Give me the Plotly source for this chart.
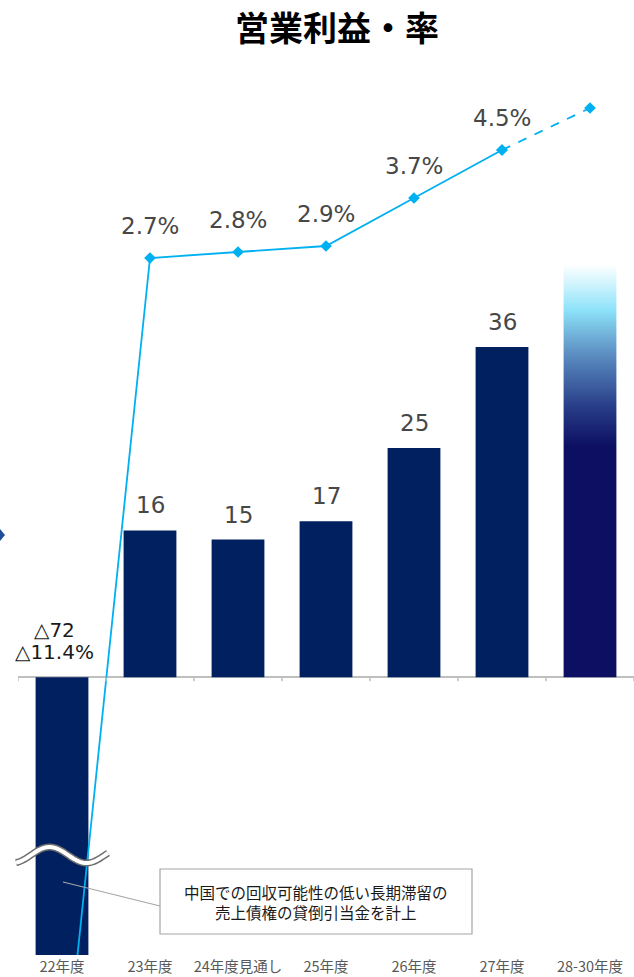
import numpy as np
import plotly.graph_objects as go

# ---- data -------------------------------------------------------------
categories = ["22年度", "23年度", "24年度見通し", "25年度", "26年度", "27年度", "28-30年度"]
profit = [-72, 16, 15, 17, 25, 36]          # 営業利益 (22〜27年度)
profit_target = 45                          # 28-30年度 目標レンジ
margin_pct = [-11.4, 2.7, 2.8, 2.9, 3.7, 4.5]   # 営業利益率 (%)
margin_target = 5.2                         # 28-30年度 目標

note_text = "中国での回収可能性の低い長期滞留の<br>売上債権の貸倒引当金を計上"

# ---- layout geometry ---------------------------------------------------
W, H = 634, 977
ML, MR, MT, MB = 18, 0, 60, 22
PLOT_W = W - ML - MR
PLOT_H = H - MT - MB
Y_RANGE = [-30.3, 67.3]      # profit axis (cut below, broken bar)
Y2_RANGE = [-8.917, 6.0]     # margin axis
BAR_W = 0.6

NAVY = "#002060"
CYAN = "#00b0f0"
LABEL = "#474747"
FONT_NUM = "DejaVu Sans"
FONT_JP = "Noto Sans CJK JP"


def paper_x(px):
    return (px - ML) / PLOT_W


def paper_y(py):
    return (H - MB - py) / PLOT_H


def fmt_profit(v):
    return f"△{abs(v)}" if v < 0 else f"{v}"


def fmt_pct(v):
    return f"△{abs(v)}%" if v < 0 else f"{v}%"


n = len(categories)
xs = list(range(n))

fig = go.Figure()

# operating profit bars
fig.add_trace(go.Bar(
    x=xs[:len(profit)], y=profit, width=BAR_W,
    marker=dict(color=NAVY, line=dict(width=0)),
    yaxis="y", hoverinfo="skip",
))

# target bar with vertical gradient
i_t = n - 1
fig.add_trace(go.Scatter(
    x=[i_t - BAR_W / 2, i_t + BAR_W / 2, i_t + BAR_W / 2, i_t - BAR_W / 2, i_t - BAR_W / 2],
    y=[0, 0, profit_target, profit_target, 0],
    mode="lines", fill="toself",
    line=dict(width=0, color="rgba(0,0,0,0)"),
    fillgradient=dict(
        type="vertical", start=0, stop=profit_target,
        colorscale=[[0, "#0d1062"], [0.56, "#0d1062"], [0.65, "#263a86"],
                    [0.78, "#5a8cc0"], [0.89, "#8de2f9"], [0.95, "#cdf3fd"],
                    [1, "#ffffff"]],
    ),
    yaxis="y", hoverinfo="skip",
))

# operating margin line (actual / forecast)
fig.add_trace(go.Scatter(
    x=xs[:len(margin_pct)], y=margin_pct, yaxis="y2",
    mode="lines+markers",
    line=dict(color=CYAN, width=1.8),
    marker=dict(symbol="diamond", size=9, color=CYAN),
    hoverinfo="skip",
))
# margin target (dashed)
fig.add_trace(go.Scatter(
    x=[xs[len(margin_pct) - 1], i_t], y=[margin_pct[-1], margin_target], yaxis="y2",
    mode="lines+markers",
    line=dict(color=CYAN, width=1.8, dash="dash"),
    marker=dict(symbol="diamond", size=9, color=CYAN),
    hoverinfo="skip",
))

annotations = []
shapes = []

# value labels
for i, v in enumerate(profit):
    if v > 0:
        annotations.append(dict(x=i, y=v, xref="x", yref="y", text=fmt_profit(v),
                                showarrow=False, yshift=25,
                                font=dict(family=FONT_NUM, size=23, color=LABEL)))
for i, v in enumerate(margin_pct):
    if v > 0:
        annotations.append(dict(x=i, y=v, xref="x", yref="y2", text=fmt_pct(v),
                                showarrow=False, yshift=32,
                                font=dict(family=FONT_NUM, size=23, color=LABEL)))
# negative first year
annotations.append(dict(x=0, y=0, xref="x", yref="y", text=fmt_profit(profit[0]),
                        showarrow=False, yshift=47, xshift=-8,
                        font=dict(family=FONT_NUM, size=20, color="#1a1a1a")))
annotations.append(dict(x=0, y=0, xref="x", yref="y", text=fmt_pct(margin_pct[0]),
                        showarrow=False, yshift=25, xshift=-8,
                        font=dict(family=FONT_NUM, size=20, color="#1a1a1a")))

# small ticks under the baseline at category boundaries
for k in range(n + 1):
    shapes.append(dict(type="line", xref="x", yref="y", x0=k - 0.5, x1=k - 0.5,
                       y0=0, y1=-0.45, line=dict(color="#bfbfbf", width=1.5)))

# broken-axis wave across the first bar
wx = np.linspace(16, 108, 60)
wy = 855 - 8 * np.sin(2 * np.pi * (wx - 31) / 74)
wave = "M " + " L ".join(f"{paper_x(a):.5f},{paper_y(b):.5f}" for a, b in zip(wx, wy))
shapes.append(dict(type="path", xref="paper", yref="paper", path=wave,
                   line=dict(color="#6e6e6e", width=7)))
shapes.append(dict(type="path", xref="paper", yref="paper", path=wave,
                   line=dict(color="#ffffff", width=4)))

# callout box and leader line
shapes.append(dict(type="line", xref="paper", yref="paper",
                   x0=paper_x(63), y0=paper_y(882), x1=paper_x(160), y1=paper_y(906),
                   line=dict(color="#a6a6a6", width=1.2)))
shapes.append(dict(type="rect", xref="paper", yref="paper",
                   x0=paper_x(160), y0=paper_y(869), x1=paper_x(472), y1=paper_y(934),
                   line=dict(color="#a6a6a6", width=1.2), fillcolor="#ffffff"))
annotations.append(dict(x=paper_x(316), y=paper_y(902), xref="paper", yref="paper",
                        xanchor="center", yanchor="middle",
                        text=note_text, showarrow=False,
                        font=dict(family=FONT_JP, size=15.5, color="#1a1a1a")))

# partial marker at the left edge
dm = (f"M {paper_x(0)},{paper_y(529)} L {paper_x(5)},{paper_y(535)} "
      f"L {paper_x(0)},{paper_y(541)} L {paper_x(-5)},{paper_y(535)} Z")
shapes.append(dict(type="path", xref="paper", yref="paper", path=dm,
                   fillcolor="#1f4e9b", line=dict(width=0)))

fig.update_layout(
    width=W, height=H,
    margin=dict(l=ML, r=MR, t=MT, b=MB, pad=0),
    paper_bgcolor="#ffffff", plot_bgcolor="#ffffff",
    showlegend=False,
    title=dict(text="営業利益・率", x=337 / W, xanchor="center",
               y=1 - 29 / H, yanchor="middle",
               font=dict(family=FONT_JP, size=34, color="#000000", weight=700)),
    xaxis=dict(range=[-0.5, n - 0.5], tickvals=xs, ticktext=categories,
               showgrid=False, zeroline=False, showline=False, ticks="",
               ticklabelstandoff=1, automargin=False,
               tickfont=dict(family=FONT_JP, size=14.5, color="#595959"),
               fixedrange=True),
    yaxis=dict(range=Y_RANGE, showgrid=False, showticklabels=False, showline=False,
               zeroline=True, zerolinecolor="#bfbfbf", zerolinewidth=2, ticks="",
               automargin=False),
    yaxis2=dict(range=Y2_RANGE, overlaying="y", side="right", showgrid=False,
                showticklabels=False, showline=False, zeroline=False, ticks="",
                automargin=False),
    annotations=annotations,
    shapes=shapes,
    bargap=0.4,
)

fig.write_html("out.html")
